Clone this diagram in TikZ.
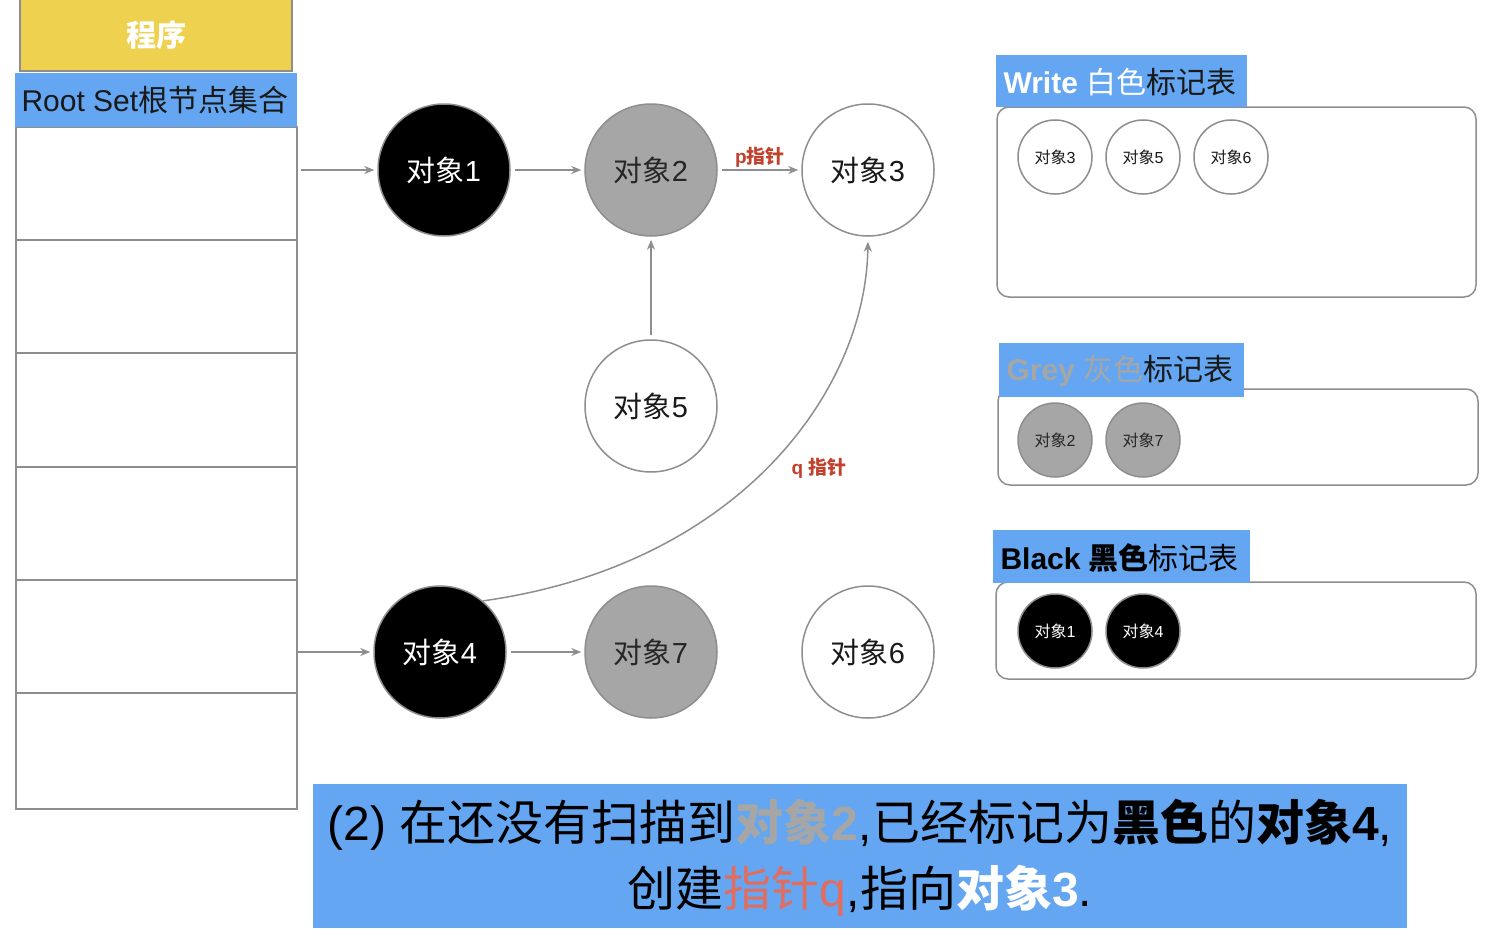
\documentclass[tikz,border=0pt]{standalone}
\usepackage{fontspec}
\setmainfont{Liberation Sans}
\newfontfamily\cjk{Noto Sans CJK SC}
\newcommand\zh[1]{{\cjk #1}}
\usetikzlibrary{arrows.meta}
\definecolor{gfill}{HTML}{A5A6A5}
\definecolor{bluebg}{HTML}{64A6F2}
\definecolor{yel}{HTML}{EFD150}
\definecolor{edge}{HTML}{8E8E8E}
\definecolor{redlab}{HTML}{C2412C}
\definecolor{salmon}{HTML}{E26D5E}
\begin{document}
\begin{tikzpicture}[x=1pt,y=-1pt,
 big/.style={circle,draw=edge,line width=1.5pt,minimum size=132pt,inner sep=0pt,font=\fontsize{29}{29}\selectfont},
 small/.style={circle,draw=edge,line width=1.5pt,minimum size=74pt,inner sep=0pt,font=\fontsize{16}{16}\selectfont},
 wobj/.style={fill=white,text=black!90},
 gobj/.style={fill=gfill,text=black!85},
 bobj/.style={fill=black,text=white},
 conn/.style={draw=edge,line width=1.5pt,-{Stealth[length=10pt,width=8pt]},shorten >=3pt,shorten <=4pt},
 panel/.style={draw=edge,line width=1.5pt,rounded corners=12pt},
 hdr/.style={fill=bluebg,draw=none},
 lab/.style={font=\bfseries\fontsize{19}{19}\selectfont,text=redlab},
]
\useasboundingbox (0,0) rectangle (1496,942);
\fill[white] (0,0) rectangle (1496,942);

% program box
\filldraw[fill=yel,draw=edge,line width=1.5pt] (20,-3) rectangle (292,71);
\node[font=\bfseries\fontsize{30}{30}\selectfont,text=white] (prog) at (156,35) {\zh{程序}};

% root set table
\draw[edge,line width=1.5pt] (16,127) rectangle (297,809);
\foreach \yy in {240,353,467,580,693} \draw[edge,line width=1.5pt] (16,\yy) -- (297,\yy);
\fill[bluebg] (15,73) rectangle (297,127);
\node[anchor=west,font=\fontsize{30}{30}\selectfont,text=black!90] (rs) at (18,100) {Root Set\zh{根节点集合}};

% objects
\node[big,bobj] (o1) at (444,170) {\zh{对象}1};
\node[big,gobj] (o2) at (651,170) {\zh{对象}2};
\node[big,wobj] (o3) at (868,170) {\zh{对象}3};
\node[big,wobj] (o5) at (651,406) {\zh{对象}5};
\node[big,bobj] (o4) at (440,652) {\zh{对象}4};
\node[big,gobj] (o7) at (651,652) {\zh{对象}7};
\node[big,wobj] (o6) at (868,652) {\zh{对象}6};

\coordinate (r1) at (297,170);
\coordinate (r4) at (293,652);
\draw[conn] (r1) -- (o1);
\draw[conn] (o1) -- (o2);
\draw[conn] (o2) -- (o3);
\draw[conn] (o5) -- (o2);
\draw[conn] (r4) -- (o4);
\draw[conn] (o4) -- (o7);
\draw[conn,shorten <=0pt,shorten >=5pt] (o4.50) .. controls (740,565) and (866,390) .. (o3.south);
\node[lab] (pl) at (760,157) {p\zh{指针}};
\node[lab] (ql) at (819,468) {q \zh{指针}};

% white table
\draw[panel] (997,107) rectangle (1476,297);
\fill[bluebg] (996,55) rectangle (1247,107);
\node[anchor=west,font=\fontsize{30}{30}\selectfont,text=black!90] (wh) at (1000,82) {\textcolor{white}{{\bfseries Write }\zh{白色}}\zh{标记表}};
\node[small,wobj] (w3) at (1055,157) {\zh{对象}3};
\node[small,wobj] (w5) at (1143,157) {\zh{对象}5};
\node[small,wobj] (w6) at (1231,157) {\zh{对象}6};

% grey table
\draw[panel] (998,389) rectangle (1478,485);
\fill[bluebg] (999,343) rectangle (1244,397);
\node[anchor=west,font=\fontsize{30}{30}\selectfont,text=black!90] (gh) at (1003,371) {\textcolor{gfill}{{\bfseries Grey }\zh{灰色}}\zh{标记表}};
\node[small,gobj] (g2) at (1055,440) {\zh{对象}2};
\node[small,gobj] (g7) at (1143,440) {\zh{对象}7};

% black table
\draw[panel] (996,582) rectangle (1476,679);
\fill[bluebg] (993,530) rectangle (1250,583);
\node[anchor=west,font=\fontsize{30}{30}\selectfont,text=black] (bh) at (997,558) {{\bfseries Black \zh{黑色}}\zh{标记表}};
\node[small,bobj] (b1) at (1055,631) {\zh{对象}1};
\node[small,bobj] (b4) at (1143,631) {\zh{对象}4};

% caption
\fill[bluebg] (313,784) rectangle (1407,928);
\node[align=center,font=\fontsize{48}{66}\selectfont,text=black] (cap) at (860,858) {(2) \zh{在还没有扫描到}\textcolor{gfill}{\bfseries\zh{对象}2},\zh{已经标记为}{\bfseries\zh{黑色}}\zh{的}{\bfseries\zh{对象}4},\\ \zh{创建}\textcolor{salmon}{\zh{指针}q},\zh{指向}\textcolor{white}{\bfseries\zh{对象}3}.};
\end{tikzpicture}
\end{document}
